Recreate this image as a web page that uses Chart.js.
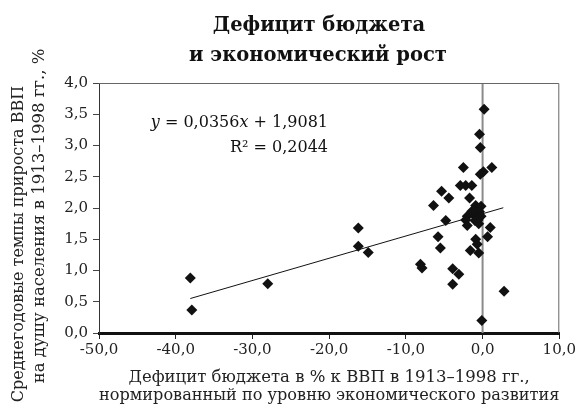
<!DOCTYPE html>
<html>
<head>
<meta charset="utf-8">
<script src="https://cdn.jsdelivr.net/npm/chart.js@4.4.1/dist/chart.umd.min.js"></script>
<style>
  html, body { margin: 0; padding: 0; background: #fff; }
  #wrap { width: 578px; height: 405px; }
</style>
</head>
<body>
<div id="wrap"><canvas id="chart"></canvas></div>
<script>
// budget deficit (% of GDP, normalised) vs. per-capita GDP growth, 1913-1998
const deficit = [-38.1, -37.9, -28.0, -16.2, -16.2, -14.9, -8.1, -7.9, -6.4, -5.8,
                 -5.5, -5.35, -4.8, -4.4, -3.9, -3.1, -3.9, -2.9, -2.2, -1.4,
                 -2.5, -1.7, -2.0, -2.2, -2.0, -1.1, -1.0, -0.9, -0.2, -0.4,
                 -0.2, -0.6, -0.9, -0.7, -1.6, -0.5, 0.65, 1.0, 2.8, -0.1,
                 0.2, -0.4, -0.3, 1.2, -0.3, 0.1, -0.5, -1.4];
const growth  = [0.88, 0.37, 0.79, 1.68, 1.39, 1.29, 1.10, 1.04, 2.04, 1.54,
                 1.36, 2.27, 1.80, 2.16, 1.03, 0.94, 0.78, 2.36, 2.36, 2.36,
                 2.65, 2.16, 1.87, 1.81, 1.72, 1.89, 1.80, 2.04, 2.03, 1.94,
                 1.87, 1.81, 1.50, 1.42, 1.32, 1.28, 1.54, 1.69, 0.67, 0.20,
                 3.58, 3.18, 2.97, 2.65, 2.54, 2.58, 1.75, 1.95];

// linear trend as printed on the chart
const slope = 0.0356;
const intercept = 1.9081;
const rSquared = 0.2044;
const trendX = [-38.1, 2.7];

const xRange = [-50, 10];
const yRange = [0, 4];

const titleLines = ['Дефицит бюджета', 'и экономический рост'];
const xTitle = ['Дефицит бюджета в % к ВВП в 1913–1998 гг.,', 'нормированный по уровню экономического развития'];
const yTitle = ['Среднегодовые темпы прироста ВВП', 'на душу населения в 1913–1998 гг., %'];

const SERIF = '"DejaVu Serif", "Liberation Serif", serif';

function fmt(v) { return v.toFixed(1).replace('.', ','); }
function num(v, d) { return v.toFixed(d).replace('.', ','); }

const points = deficit.map((x, i) => ({ x: x, y: growth[i] }));
const trend = trendX.map(x => ({ x: x, y: slope * x + intercept }));
const zeroLine = yRange.map(y => ({ x: 0, y: y }));

// title, y title, regression label and the top/right frame
const decor = {
  id: 'decor',
  afterDraw(chart) {
    const ctx = chart.ctx;
    const a = chart.chartArea;
    ctx.save();
    ctx.strokeStyle = '#666';
    ctx.lineWidth = 1;
    ctx.beginPath();
    ctx.moveTo(a.left, a.top + 0.5);
    ctx.lineTo(a.right - 0.5, a.top + 0.5);
    ctx.lineTo(a.right - 0.5, a.bottom);
    ctx.stroke();

    ctx.fillStyle = '#111';
    ctx.textAlign = 'center';
    ctx.textBaseline = 'middle';
    ctx.font = 'bold 19.5px ' + SERIF;
    ctx.fillText(titleLines[0], 319, 26);
    ctx.fillText(titleLines[1], 318, 56);

    // the two y-title lines are not centred on the same point in the original
    ctx.fillStyle = '#222';
    ctx.save();
    ctx.translate(19, 244);
    ctx.rotate(-Math.PI / 2);
    ctx.font = '16px ' + SERIF;
    ctx.fillText(yTitle[0], 0, 0);
    ctx.restore();
    ctx.save();
    ctx.translate(40, 216);
    ctx.rotate(-Math.PI / 2);
    ctx.font = '16.5px ' + SERIF;
    ctx.fillText(yTitle[1], 0, 0);
    ctx.restore();

    // y = 0,0356x + 1,9081  (y and x italic), right aligned
    ctx.fillStyle = '#111';
    const right = a.left + 229;
    const parts = [
      ['italic', 'y'], ['normal', ' = ' + num(slope, 4)], ['italic', 'x'],
      ['normal', ' + ' + num(intercept, 4)]
    ];
    let w = 0;
    parts.forEach(p => { ctx.font = p[0] + ' 16px ' + SERIF; w += ctx.measureText(p[1]).width; });
    let cx = right - w;
    ctx.textAlign = 'left';
    parts.forEach(p => {
      ctx.font = p[0] + ' 16px ' + SERIF;
      ctx.fillText(p[1], cx, 123);
      cx += ctx.measureText(p[1]).width;
    });
    ctx.textAlign = 'right';
    ctx.font = '16px ' + SERIF;
    ctx.fillText('R² = ' + num(rSquared, 4), right, 148);
    ctx.restore();
  }
};

new Chart(document.getElementById('chart'), {
  type: 'scatter',
  data: {
    datasets: [
      { label: 'countries', data: points, pointStyle: 'rectRot', pointRadius: 5.5,
        backgroundColor: '#111', borderColor: '#111', borderWidth: 0, showLine: false },
      { label: 'trend', data: trend, showLine: true, pointRadius: 0,
        borderColor: '#111', borderWidth: 1 },
      { label: 'zero', data: zeroLine, showLine: true, pointRadius: 0,
        borderColor: '#8a8a8a', borderWidth: 2 }
    ]
  },
  options: {
    responsive: true,
    maintainAspectRatio: false,
    animation: false,
    layout: { padding: { top: 83, right: 16, left: 0, bottom: 0 } },
    plugins: { legend: { display: false }, tooltip: { enabled: false }, title: { display: false } },
    scales: {
      x: {
        type: 'linear', min: xRange[0], max: xRange[1],
        afterFit(s) { s.height = 72; },
        ticks: { stepSize: 10, callback: v => fmt(v), color: '#222', padding: 2,
                 font: { family: SERIF, size: 15 }, maxRotation: 0 },
        grid: { drawOnChartArea: false, drawTicks: true, tickLength: 6, color: '#222' },
        border: { color: '#111', width: 3 },
        title: { display: true, text: xTitle, color: '#222', padding: { top: 0, bottom: 0.5 },
                 font: { family: SERIF, size: 16.5, lineHeight: 1.1 } }
      },
      y: {
        type: 'linear', min: yRange[0], max: yRange[1],
        afterFit(s) { s.width = 99; },
        ticks: { stepSize: 0.5, callback: v => fmt(v), color: '#222', padding: 5,
                 font: { family: SERIF, size: 15 } },
        grid: { drawOnChartArea: false, drawTicks: true, tickLength: 6, color: '#444' },
        border: { color: '#333', width: 1 },
        title: { display: false }
      }
    }
  },
  plugins: [decor]
});
</script>
</body>
</html>
